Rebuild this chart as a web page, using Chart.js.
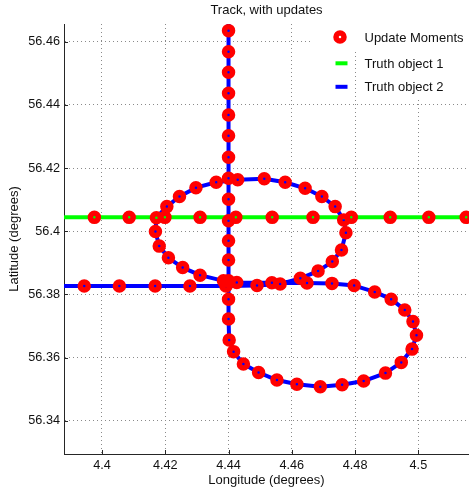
<!DOCTYPE html>
<html lang="en">
<head>
<meta charset="UTF-8">
<title>Track, with updates</title>
<script src="https://cdn.jsdelivr.net/npm/chart.js@4.4.0/dist/chart.umd.min.js"></script>
<style>
  html, body { margin: 0; padding: 0; background: #fff; }
</style>
</head>
<body>
<canvas id="track" width="469" height="492"></canvas>
<script>
// Tick values
const xTicks = [4.4, 4.42, 4.44, 4.46, 4.48, 4.5];
const yTicks = [56.34, 56.36, 56.38, 56.4, 56.42, 56.44, 56.46];

// Truth object 1: straight east-west track
const obj1Lon = [4.38, 4.52];
const obj1Lat = 56.4044;
// Update moments on object 1
const upd1Lon = [4.3976, 4.4086, 4.4199, 4.4310, 4.4423, 4.4538, 4.4667, 4.4788, 4.4911, 4.5033, 4.5151];

// Truth object 2: enters from the west, top loop, bottom loop, then north
// (first and last points are outside the axes, the rest are update moments)
const obj2Lon = [
  4.3800, 4.3944, 4.4055, 4.4168, 4.4278, 4.4392, 4.4490, 4.4563,
  4.4627, 4.4683, 4.4728, 4.4757, 4.4771, 4.4764, 4.4737, 4.4695,
  4.4642, 4.4579, 4.4513, 4.4429, 4.4361, 4.4297, 4.4245, 4.4205,
  4.4172, 4.4169, 4.4181, 4.4210, 4.4255, 4.4310, 4.4384, 4.4426,
  4.4537, 4.4648, 4.4727, 4.4797, 4.4862, 4.4914, 4.4957, 4.4983,
  4.4994, 4.4980, 4.4946, 4.4896, 4.4827, 4.4759, 4.4690, 4.4616,
  4.4553, 4.4495, 4.4447, 4.4416, 4.4402, 4.4400, 4.4400, 4.4400,
  4.4400, 4.4400, 4.4400, 4.4400, 4.4400, 4.4400, 4.4400, 4.4400,
  4.4400, 4.4400, 4.4400, 4.4400, 4.4400
];
const obj2Lat = [
  56.3827, 56.3827, 56.3827, 56.3827, 56.3827, 56.3827, 56.3828, 56.3833,
  56.3851, 56.3874, 56.3904, 56.3941, 56.3995, 56.4036, 56.4078, 56.4110,
  56.4136, 56.4155, 56.4166, 56.4163, 56.4155, 56.4138, 56.4110, 56.4078,
  56.4043, 56.3999, 56.3953, 56.3916, 56.3885, 56.3861, 56.3843, 56.3838,
  56.3837, 56.3836, 56.3835, 56.3828, 56.3808, 56.3785, 56.3751, 56.3714,
  56.3671, 56.3627, 56.3585, 56.3551, 56.3526, 56.3514, 56.3508, 56.3516,
  56.3529, 56.3553, 56.3580, 56.3619, 56.3656, 56.3722, 56.3785, 56.3843,
  56.3909, 56.3970, 56.4033, 56.4101, 56.4168, 56.4234, 56.4302, 56.4368,
  56.4437, 56.4503, 56.4568, 56.4635, 56.4750
];

const obj1 = obj1Lon.map(x => ({ x: x, y: obj1Lat }));
const obj2 = obj2Lon.map((x, i) => ({ x: x, y: obj2Lat[i] }));
const updates = upd1Lon.map(x => ({ x: x, y: obj1Lat }))
  .concat(obj2.slice(1, -1));

const FONT = "'Liberation Sans', Arial, Helvetica, sans-serif";
const tickFont = { family: FONT, size: 12.7 };
const TEXT = '#111';

// Title over the plot area, legend inside the top-right corner, inward ticks
const overlay = {
  id: 'overlay',
  beforeDatasetsDraw(chart) {
    const { ctx, chartArea: a, scales } = chart;
    ctx.save();
    ctx.strokeStyle = '#262626';
    ctx.lineWidth = 1;
    ctx.beginPath();
    xTicks.forEach(v => {
      const px = Math.round(scales.x.getPixelForValue(v)) + 0.5;
      ctx.moveTo(px, a.bottom);
      ctx.lineTo(px, a.bottom - 4);
    });
    yTicks.forEach(v => {
      const py = Math.round(scales.y.getPixelForValue(v)) + 0.5;
      ctx.moveTo(a.left, py);
      ctx.lineTo(a.left + 4, py);
    });
    ctx.stroke();
    ctx.restore();
  },
  afterDraw(chart) {
    const { ctx, chartArea: a } = chart;
    ctx.save();
    ctx.fillStyle = TEXT;
    ctx.font = '13px ' + FONT;
    ctx.textAlign = 'center';
    ctx.textBaseline = 'alphabetic';
    ctx.fillText('Track, with updates', (a.left + a.right) / 2, 13.5);

    // legend background
    const lx = a.right - 158;
    ctx.fillStyle = '#fff';
    ctx.fillRect(lx, a.top, 158, 25);
    ctx.fillRect(lx + 51, a.top + 25, 107, 48);

    const ds = chart.data.datasets;
    const rows = [a.top + 17.5, a.top + 44.3, a.top + 66.7];
    const sx = lx + 29;
    const tx = lx + 53.5;

    // marker sample
    ctx.beginPath();
    ctx.arc(sx, a.top + 13, 4, 0, Math.PI * 2);
    ctx.lineWidth = 5.5;
    ctx.strokeStyle = ds[0].pointBorderColor;
    ctx.stroke();

    // line samples
    ctx.lineWidth = 4;
    [[ds[1], a.top + 39.3], [ds[2], a.top + 62.8]].forEach(([d, y]) => {
      ctx.strokeStyle = d.borderColor;
      ctx.beginPath();
      ctx.moveTo(sx - 4.5, y);
      ctx.lineTo(sx + 7.5, y);
      ctx.stroke();
    });

    ctx.fillStyle = TEXT;
    ctx.font = '13px ' + FONT;
    ctx.textAlign = 'left';
    ds.forEach((d, i) => ctx.fillText(d.label, tx, rows[i]));
    ctx.restore();
  }
};

new Chart(document.getElementById('track'), {
  type: 'scatter',
  data: {
    datasets: [
      {
        label: 'Update Moments',
        data: updates,
        showLine: false,
        pointRadius: 4,
        pointHoverRadius: 4,
        pointBorderWidth: 5.5,
        pointHoverBorderWidth: 5.5,
        pointBorderColor: '#ff0000',
        pointBackgroundColor: 'rgba(0,0,0,0)',
        clip: false
      },
      {
        label: 'Truth object 1',
        data: obj1,
        showLine: true,
        borderColor: '#00ff00',
        borderWidth: 4,
        pointRadius: 0,
        tension: 0,
        clip: 0
      },
      {
        label: 'Truth object 2',
        data: obj2,
        showLine: true,
        borderColor: '#0000ff',
        borderWidth: 4,
        borderJoinStyle: 'round',
        pointRadius: 0,
        tension: 0,
        clip: 0
      }
    ]
  },
  options: {
    responsive: false,
    animation: false,
    events: [],
    layout: { autoPadding: false, padding: { top: 24, left: 0, right: 0, bottom: 0 } },
    plugins: {
      legend: { display: false },
      title: { display: false },
      tooltip: { enabled: false }
    },
    scales: {
      x: {
        type: 'linear',
        min: 4.388,
        max: 4.516,
        afterBuildTicks: s => { s.ticks = xTicks.map(v => ({ value: v })); },
        afterFit: s => { s.height = 38; },
        ticks: { callback: v => String(v), padding: 4, font: tickFont, color: TEXT, maxRotation: 0, autoSkip: false },
        grid: { color: '#8a8a8a', lineWidth: 1, drawTicks: false },
        border: { display: true, color: '#262626', width: 1, dash: [1, 3] },
        title: { display: true, text: 'Longitude (degrees)', font: { family: FONT, size: 13 }, color: TEXT, padding: { top: 0, bottom: 4 } }
      },
      y: {
        type: 'linear',
        min: 56.3295,
        max: 56.4656,
        afterBuildTicks: s => { s.ticks = yTicks.map(v => ({ value: v })); },
        afterFit: s => { s.width = 64; },
        ticks: { callback: v => String(v), padding: 4, font: tickFont, color: TEXT, autoSkip: false },
        grid: { color: '#8a8a8a', lineWidth: 1, drawTicks: false },
        border: { display: true, color: '#262626', width: 1, dash: [1, 3] },
        title: { display: true, text: 'Latitude (degrees)', font: { family: FONT, size: 13 }, color: TEXT, padding: { top: 6.5, bottom: 0 } }
      }
    }
  },
  plugins: [overlay]
});
</script>
</body>
</html>
